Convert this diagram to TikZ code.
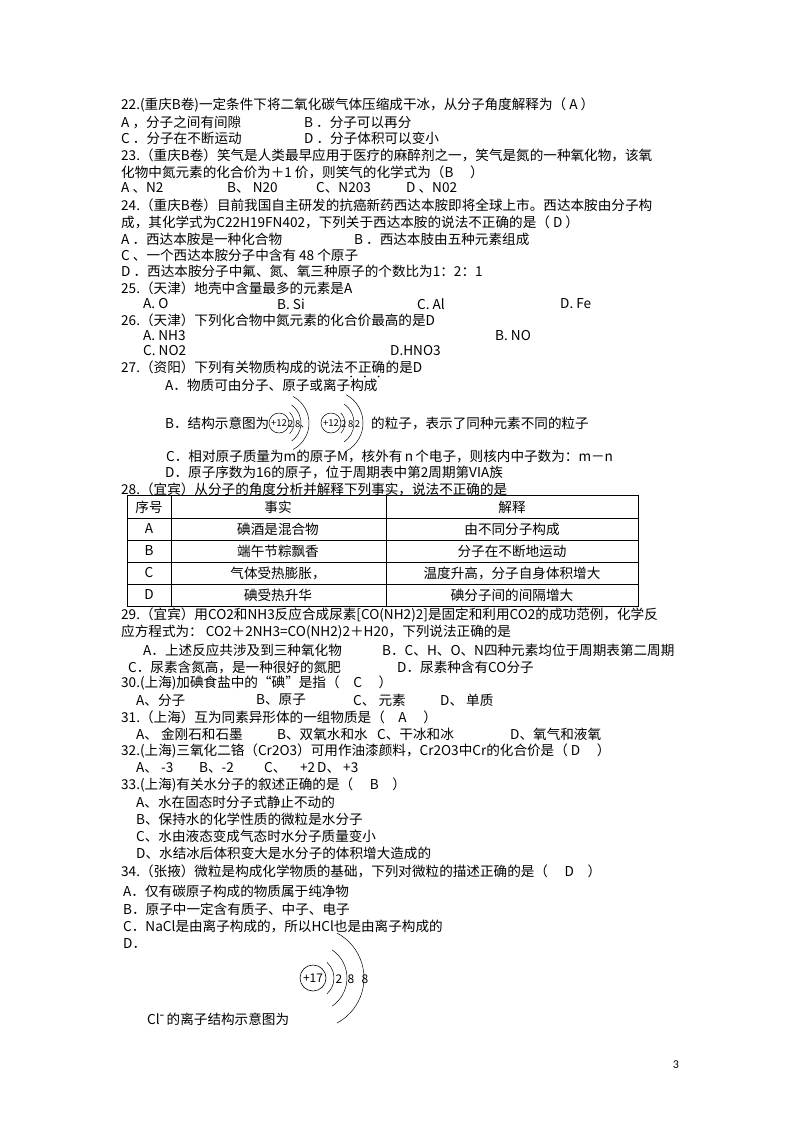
\documentclass[tikz,border=0pt]{standalone}
\usepackage{fontspec}
\setmainfont{Noto Sans CJK SC}
\newfontfamily\pnum{Carlito}
\usetikzlibrary{calc}
\begin{document}
\begin{tikzpicture}[x=1pt,y=-1pt,
  txt/.style={anchor=west,inner sep=0pt,font=\fontsize{13.6}{16}\selectfont},
  cell/.style={inner sep=0pt,font=\fontsize{13.6}{16}\selectfont},
  sm/.style={inner sep=0pt,font=\fontsize{9.5}{10}\selectfont},
  shell/.style={line width=0.5pt}]
\useasboundingbox (0,0) rectangle (800,1132);
\fill[white] (0,0) rectangle (800,1132);
% 22
\node[txt] (q22) at (121,105) {22.(重庆B卷)一定条件下将二氧化碳气体压缩成干冰，从分子角度解释为（ A ）};
\node[txt] (q22a) at (121,122) {A ，分子之间有间隙};
\node[txt] (q22b) at (304,122) {B ．分子可以再分};
\node[txt] (q22c) at (121,138) {C ．分子在不断运动};
\node[txt] (q22d) at (304,138) {D ．分子体积可以变小};
% 23
\node[txt] (q23) at (121,155) {23.（重庆B卷）笑气是人类最早应用于医疗的麻醉剂之一，笑气是氮的一种氧化物，该氧};
\node[txt] (q23x) at (121,172) {化物中氮元素的化合价为＋1 价，则笑气的化学式为（B　 ）};
\node[txt] (q23a) at (121,188) {A 、N2};
\node[txt] (q23b) at (227,188) {B、 N20};
\node[txt] (q23c) at (316,188) {C、N203};
\node[txt] (q23d) at (406,188) {D 、N02};
% 24
\node[txt] (q24) at (121,205) {24.（重庆B卷）目前我国自主研发的抗癌新药西达本胺即将全球上市。西达本胺由分子构};
\node[txt] (q24x) at (121,222) {成，其化学式为C22H19FN402，下列关于西达本胺的说法不正确的是（ D ）};
\node[txt] (q24a) at (121,239) {A ．西达本胺是一种化合物};
\node[txt] (q24b) at (354,239) {B ．西达本肢由五种元素组成};
\node[txt] (q24c) at (121,255) {C 、一个西达本胺分子中含有 48 个原子};
\node[txt] (q24d) at (121,271) {D ．西达本胺分子中氟、氮、氧三种原子的个数比为1：2：1};
% 25
\node[txt] (q25) at (121,288) {25.（天津）地壳中含量最多的元素是A};
\node[txt] (q25a) at (143,304) {A. O};
\node[txt] (q25b) at (277,304) {B. Si};
\node[txt] (q25c) at (417,304) {C. Al};
\node[txt] (q25d) at (560,304) {D. Fe};
% 26
\node[txt] (q26) at (121,320) {26.（天津）下列化合物中氮元素的化合价最高的是D};
\node[txt] (q26a) at (143,336) {A. NH3};
\node[txt] (q26b) at (495,336) {B. NO};
\node[txt] (q26c) at (143,351) {C. NO2};
\node[txt] (q26d) at (390,351) {D.HNO3};
% 27
\node[txt] (q27a) at (121,367) {27.（资阳）下列有关物质构成的说法};
\node[txt] (q27b) at (q27a.east) {不正确};
\node[txt] (q27c) at (q27b.east) {的是D};
\foreach \f in {0.1667,0.5,0.8333}
  \fill ($(q27b.south west)!\f!(q27b.south east)+(0,3)$) circle (0.9);
\node[txt] (q27A) at (165,385) {A．物质可由分子、原子或离子构成};
\node[txt] (q27B) at (165,423) {B．结构示意图为};
\node[circle,draw,line width=0.5pt,minimum size=20pt,inner sep=0pt,sm] (at1) at (279,423) {+12};
\node[sm,anchor=west] (at1n) at (288,424) {2\,8、};
\node[circle,draw,line width=0.5pt,minimum size=20pt,inner sep=0pt,sm] (at2) at (331,423) {+12};
\node[sm,anchor=west] (at2n) at (341,424) {2\,8\,2};
\draw[shell] (at1.center) ++(-45:15) arc (-45:45:15);
\draw[shell] (at1.center) ++(-55:22) arc (-55:55:22);
\draw[shell] (at1.center) ++(-62:30) arc (-62:62:30);
\draw[shell] (at2.center) ++(-45:14) arc (-45:45:14);
\draw[shell] (at2.center) ++(-55:23) arc (-55:55:23);
\draw[shell] (at2.center) ++(-62:32) arc (-62:62:32);
\node[txt] (q27Bt) at (371,423) {的粒子，表示了同种元素不同的粒子};
\node[txt] (q27C) at (166,456) {C．相对原子质量为\textit{m}的原子M，核外有\,\textit{n}\,个电子，则核内中子数为：\textit{m}－\textit{n}};
\node[txt] (q27D) at (165,472) {D．原子序数为16的原子，位于周期表中第2周期第VIA族};
% 28
\node[txt] (q28) at (121,489) {28.（宜宾）从分子的角度分析并解释下列事实，说法不正确的是};
\draw[line width=0.6pt] (127,495) rectangle (638,606);
\foreach \yy in {518,540,562,584} \draw[line width=0.6pt] (127,\yy) -- (638,\yy);
\draw[line width=0.6pt] (171,495) -- (171,606) (386,495) -- (386,606);
\node[cell] (h1) at (149,507) {序号};
\node[cell] (h2) at (278,507) {事实};
\node[cell] (h3) at (512,507) {解释};
\node[cell] (r1a) at (149,529) {A};
\node[cell] (r1b) at (278,529) {碘酒是混合物};
\node[cell] (r1c) at (512,529) {由不同分子构成};
\node[cell] (r2a) at (149,551) {B};
\node[cell] (r2b) at (278,551) {端午节粽飘香};
\node[cell] (r2c) at (512,551) {分子在不断地运动};
\node[cell] (r3a) at (149,573) {C};
\node[cell] (r3b) at (278,573) {气体受热膨胀，};
\node[cell] (r3c) at (512,573) {温度升高，分子自身体积增大};
\node[cell] (r4a) at (149,595) {D};
\node[cell] (r4b) at (278,595) {碘受热升华};
\node[cell] (r4c) at (512,595) {碘分子间的间隔增大};
% 29
\node[txt] (q29) at (121,615) {29.（宜宾）用CO2和NH3反应合成尿素[CO(NH2)2]是固定和利用CO2的成功范例，化学反};
\node[txt] (q29x) at (121,632) {应方程式为：  CO2＋2NH3=CO(NH2)2＋H20，下列说法正确的是};
\node[txt] (q29a) at (143,650) {A．上述反应共涉及到三种氧化物};
\node[txt] (q29b) at (382,650) {B．C、H、O、N四种元素均位于周期表第二周期};
\node[txt] (q29c) at (128,667) {C．尿素含氮高，是一种很好的氮肥};
\node[txt] (q29d) at (397,667) {D．尿素种含有CO分子};
% 30
\node[txt] (q30) at (121,683) {30.(上海)加碘食盐中的“碘”是指（　C　 ）};
\node[txt] (q30a) at (136,700) {A、分子};
\node[txt] (q30b) at (256,700) {B、原子};
\node[txt] (q30c) at (353,700) {C、 元素};
\node[txt] (q30d) at (440,700) {D、 单质};
% 31
\node[txt] (q31) at (121,717) {31.（上海）互为同素异形体的一组物质是（　A　 ）};
\node[txt] (q31a) at (136,734) {A、 金刚石和石墨};
\node[txt] (q31b) at (277,734) {B、双氧水和水};
\node[txt] (q31c) at (377,734) {C、干冰和冰};
\node[txt] (q31d) at (510,734) {D、氧气和液氧};
% 32
\node[txt] (q32) at (121,751) {32.(上海)三氧化二铬（Cr2O3）可用作油漆颜料，Cr2O3中Cr的化合价是（ D　 ）};
\node[txt] (q32a) at (136,768) {A、 -3};
\node[txt] (q32b) at (199,768) {B、-2};
\node[txt] (q32c) at (264,768) {C、　+2};
\node[txt] (q32d) at (317,768) {D、 +3};
% 33
\node[txt] (q33) at (121,785) {33.(上海)有关水分子的叙述正确的是（　 B　）};
\node[txt] (q33a) at (136,802) {A、水在固态时分子式静止不动的};
\node[txt] (q33b) at (136,819) {B、保持水的化学性质的微粒是水分子};
\node[txt] (q33c) at (136,836) {C、水由液态变成气态时水分子质量变小};
\node[txt] (q33d) at (136,853) {D、水结冰后体积变大是水分子的体积增大造成的};
% 34
\node[txt] (q34) at (121,871) {34.（张掖）微粒是构成化学物质的基础，下列对微粒的描述正确的是（　 D　）};
\node[txt] (q34a) at (123,891) {A．仅有碳原子构成的物质属于纯净物};
\node[txt] (q34b) at (123,909) {B．原子中一定含有质子、中子、电子};
\node[txt] (q34c) at (123,926) {C．NaCl是由离子构成的，所以HCl也是由离子构成的};
\node[txt] (q34d) at (123,944) {D．};
\node[circle,draw,line width=0.6pt,minimum size=26pt,inner sep=0pt,font=\fontsize{12}{13}\selectfont] (cl) at (313,978) {+17};
\draw[shell] (cl.center) ++(-48:21) arc (-48:48:21);
\draw[shell] (cl.center) ++(-56:34) arc (-56:56:34);
\draw[shell] (cl.center) ++(-62:51) arc (-62:62:51);
\node[inner sep=0pt,font=\fontsize{12}{13}\selectfont] (e1) at (339,979) {2};
\node[inner sep=0pt,font=\fontsize{12}{13}\selectfont] (e2) at (351,979) {8};
\node[inner sep=0pt,font=\fontsize{12}{13}\selectfont] (e3) at (365,979) {8};
\node[txt] (q34l) at (147,1019) {Cl\raisebox{0.7ex}{-}\,的离子结构示意图为};
\node[inner sep=0pt,font=\pnum\fontsize{12}{13}\selectfont] (pg) at (676,1065) {3};
\end{tikzpicture}
\end{document}
